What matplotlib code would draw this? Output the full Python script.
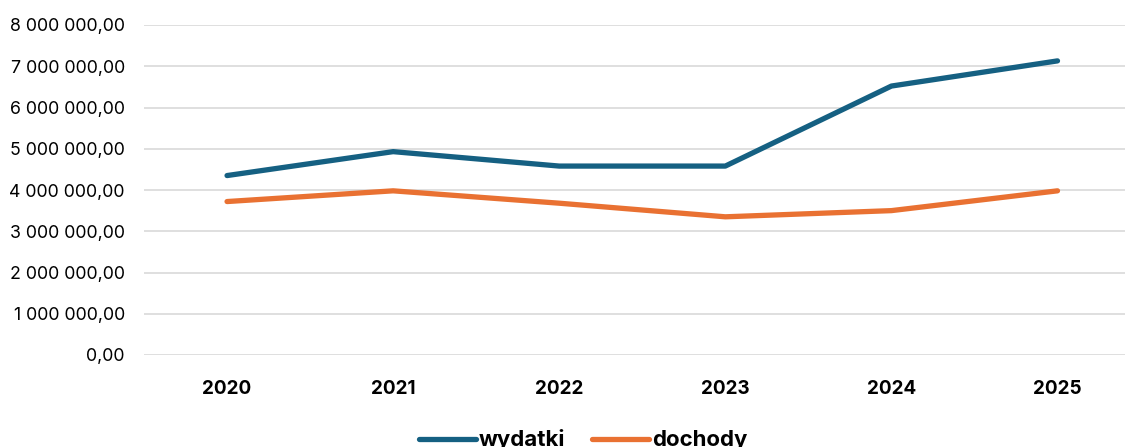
import matplotlib
matplotlib.use("Agg")
import matplotlib.pyplot as plt
from matplotlib.ticker import FuncFormatter, MultipleLocator

years = ["2020", "2021", "2022", "2023", "2024", "2025"]
wydatki = [4350000, 4930000, 4580000, 4580000, 6520000, 7130000]
dochody = [3720000, 3980000, 3680000, 3350000, 3500000, 3980000]

plt.rcParams['font.family'] = ['Inter', 'DejaVu Sans']

fig = plt.figure(figsize=(11.25, 4.47), dpi=100)
ax = fig.add_axes([144/1125, 1-355/447, 1-144/1125, (355-25)/447])

x = list(range(len(years)))
l1, = ax.plot(x, wydatki, color="#156082", lw=3.8, solid_capstyle="round", solid_joinstyle="round", label="wydatki", zorder=3)
l2, = ax.plot(x, dochody, color="#E97132", lw=3.8, solid_capstyle="round", solid_joinstyle="round", label="dochody", zorder=3)

ax.set_ylim(0, 8000000)
ax.set_xlim(-0.5, (1125-227)/166.1)
ax.yaxis.set_major_locator(MultipleLocator(1000000))

def fmt(v, pos):
    s = f"{v:,.2f}"
    s = s.replace(",", " ").replace(".", ",")
    return s
ax.yaxis.set_major_formatter(FuncFormatter(fmt))
ax.set_xticks(x)
ax.set_xticklabels(years, fontweight="bold", fontsize=13.6)
ax.grid(axis="y", color="#d9d9d9", lw=1.2, zorder=0)
ax.set_axisbelow(True)
for s in ax.spines.values():
    s.set_visible(False)
ax.tick_params(axis="both", length=0, colors="#000000")
ax.tick_params(axis="y", pad=13.7, labelsize=12.8)
ax.tick_params(axis="x", pad=18)

fig.legend(handles=[l1, l2], loc="center", bbox_to_anchor=(583/1125, 1-440/447),
           ncol=2, frameon=False, handlelength=2.55, handletextpad=0.14,
           columnspacing=1.2, borderpad=0, prop={"weight": "bold", "size": 16})

fig.savefig("out.png", dpi=100)
